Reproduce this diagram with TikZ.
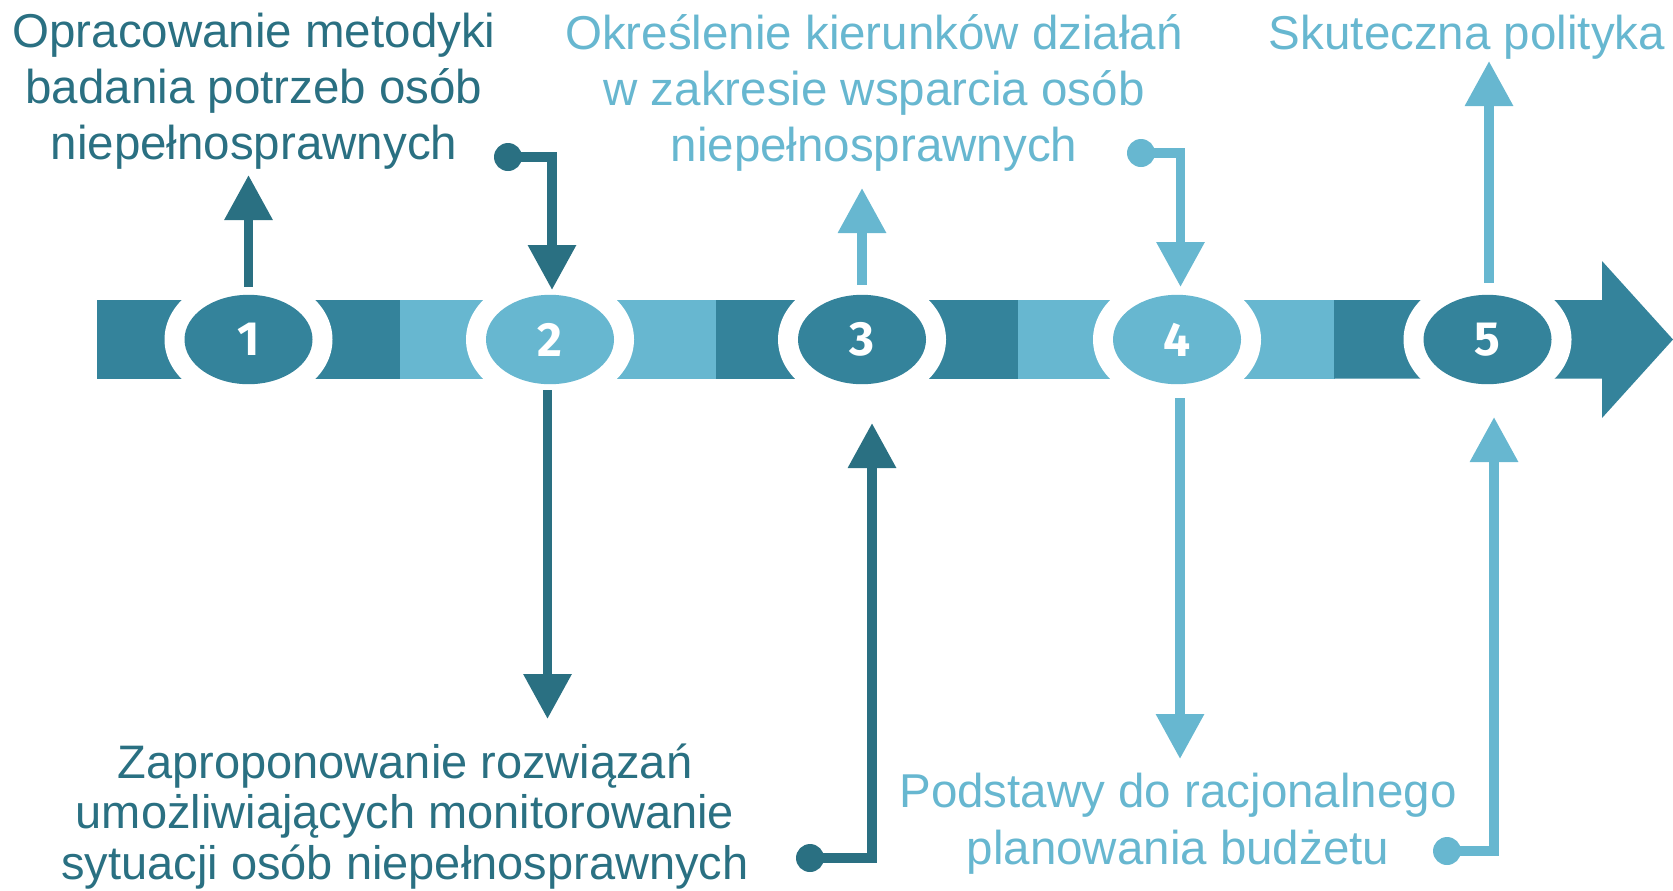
\documentclass[tikz,border=0pt]{standalone}
\usepackage{fontspec}
\setmainfont{Liberation Sans}
\newfontfamily\digitfont{Fira Sans}
\usetikzlibrary{shapes.geometric,arrows.meta}
\definecolor{barDark}{HTML}{34839B}
\definecolor{lineDark}{HTML}{2A7082}
\definecolor{barLight}{HTML}{67B7D0}
\begin{document}
\begin{tikzpicture}[x=0.5pt,y=-0.5pt,
  stage/.style={ellipse, minimum width=64pt, minimum height=44.7pt, inner sep=0pt, text=white,
    font=\digitfont\bfseries\fontsize{24}{24}\selectfont},
  conn/.style={line width=4.75pt, -{Triangle[length=22.5pt,width=23pt]}},
  dotnode/.style={circle, inner sep=0pt, minimum size=14pt},
  desc/.style={align=center, anchor=base, inner sep=0pt, font=\fontsize{23.75}{28}\selectfont},
]
\useasboundingbox (0,0) rectangle (1673,890);
% bar
\fill[barDark] (97,300) rectangle (400.5,378.5);
\fill[barLight] (399.5,300) rectangle (716.5,378.5);
\fill[barDark] (715.5,300) rectangle (1018.5,378.5);
\fill[barLight] (1017.5,300) rectangle (1335,378.5);
\fill[barDark] (1334,300) -- (1602,300) -- (1602,261) -- (1673,339.5) -- (1602,418) -- (1602,378.5) -- (1334,378.5) -- cycle;
% white rings
\foreach \cx in {248.5,550,862,1177,1487.5}
  \fill[white] (\cx,339.5) ellipse [x radius=42pt, y radius=32.5pt];
% stages
\node[stage, fill=barDark]  (e1) at (248.5,339.5) {1};
\node[stage, fill=barLight] (e2) at (550,339.5) {2};
\node[stage, fill=barDark]  (e3) at (862,339.5) {3};
\node[stage, fill=barLight] (e4) at (1177,339.5) {4};
\node[stage, fill=barDark]  (e5) at (1487.5,339.5) {5};
% texts (base anchor = baseline of the last line)
\node[desc, text=lineDark] (t1) at (254,159) {Opracowanie metodyki\\badania potrzeb osób\\niepełnosprawnych};
\node[desc, text=barLight] (t3) at (874,161) {Określenie kierunków działań\\w zakresie wsparcia osób\\niepełnosprawnych};
\node[desc, text=barLight] (t5) at (1467,49) {Skuteczna polityka};
\node[desc, text=lineDark, font=\fontsize{23.5}{25.25}\selectfont] (t2) at (405,879) {Zaproponowanie rozwiązań\\umożliwiających monitorowanie\\sytuacji osób niepełnosprawnych};
\node[desc, text=barLight, font=\fontsize{23.75}{28.5}\selectfont] (t4) at (1178,864) {Podstawy do racjonalnego\\planowania budżetu};
% connector end points
\coordinate (a1) at (248.5,175);
\coordinate (a2) at (552,290);
\coordinate (a3) at (547.5,719);
\coordinate (a4) at (872,423);
\coordinate (a5) at (862,188);
\coordinate (a6) at (1180.5,287);
\coordinate (a7) at (1180,759);
\coordinate (a8) at (1494,417);
\coordinate (a9) at (1489,61);
% dots
\node[dotnode, fill=lineDark] (d2) at (508,157) {};
\node[dotnode, fill=lineDark] (d4) at (810,858) {};
\node[dotnode, fill=barLight] (d6) at (1141,153) {};
\node[dotnode, fill=barLight] (d8) at (1447,851) {};
% connectors
\draw[conn, lineDark, shorten <=3.9pt] (e1.north) -- (a1);
\draw[conn, lineDark] (d2.center) -| (a2);
\draw[conn, lineDark, shorten <=2.9pt] (e2.south -| a3) -- (a3);
\draw[conn, lineDark] (d4.center) -| (a4);
\draw[conn, barLight, shorten <=4.9pt] (e3.north -| a5) -- (a5);
\draw[conn, barLight] (d6.center) -| (a6);
\draw[conn, barLight, shorten <=6.9pt] (e4.south -| a7) -- (a7);
\draw[conn, barLight] (d8.center) -| (a8);
\draw[conn, barLight, shorten <=5.9pt] (e5.north -| a9) -- (a9);
\end{tikzpicture}
\end{document}
